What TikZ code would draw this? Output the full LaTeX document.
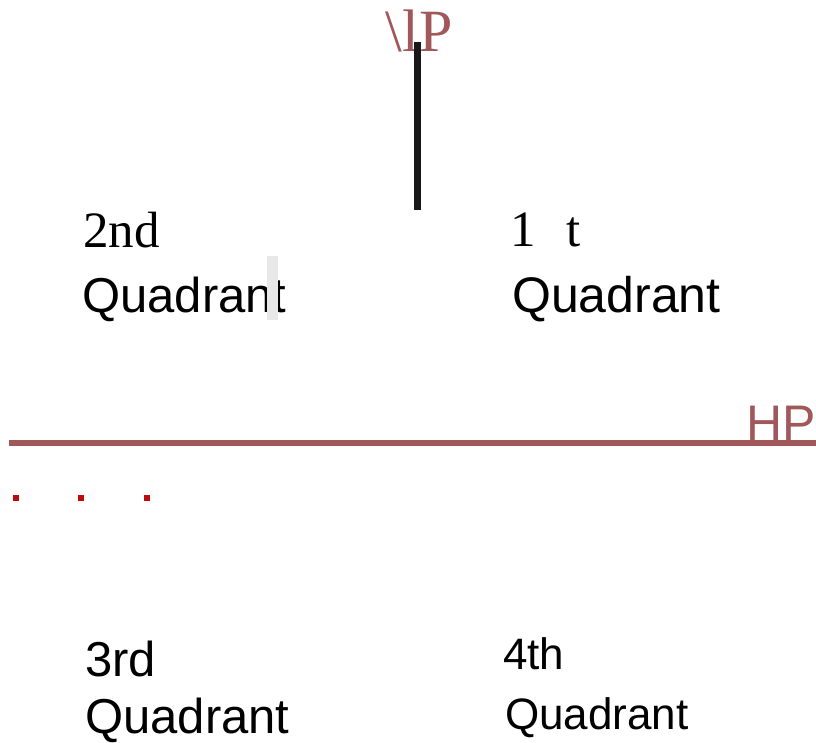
\documentclass[tikz,border=0pt]{standalone}
\usepackage{fontspec}
\setmainfont{Liberation Serif}
\setsansfont{Liberation Sans}
\usetikzlibrary{positioning}
\definecolor{planered}{HTML}{A0585B}
\definecolor{markred}{HTML}{BE0A0A}

\begin{document}
\begin{tikzpicture}[
  x=1pt,y=-1pt,
  lbl/.style={inner sep=0pt,anchor=base west,text=black},
  serifl/.style={lbl,font=\fontsize{51}{60}\selectfont\rmfamily},
  sansl/.style={lbl,font=\fontsize{#1}{#1}\selectfont\sffamily},
  sansl/.default=49,
  plane/.style={planered,line width=6pt},
  redmark/.style={fill=markred,minimum size=6pt,inner sep=0pt}
]
\useasboundingbox (0,0) rectangle (816,743);
% ---------- vertical plane ----------
\node[inner sep=0pt,anchor=base,text=planered,font=\fontsize{60}{60}\selectfont\rmfamily] (vp) at (419,52) {\textbackslash lP};
\coordinate (vptop) at (417,42);
\coordinate (vpbot) at (417,210);
\draw[black!90,line width=7pt] (vptop) -- (vpbot);
% ---------- upper quadrants ----------
\node[serifl] (q2a) at (83,248) {2nd};
\node[sansl=49] (q2b) at (82,312) {Quadrant};
\node[serifl] (q1a) at (510,247) {1\hspace{0.6em}t};
\node[sansl=50] (q1b) at (512,312) {Quadrant};
\fill[black!9] (267,256) rectangle (278,320);
% ---------- horizontal plane ----------
\coordinate (hpl) at (9,443);
\coordinate (hpr) at (816,443);
\draw[plane] (hpl) -- (hpr);
\node[sansl=50,text=planered,anchor=base east] (hp) at (816,440) {HP};
\foreach \mx in {16,81,147}
  \node[redmark] at (\mx,498) {};
% ---------- lower quadrants ----------
\node[sansl=49] (q3a) at (85,676) {3rd};
\node[sansl=49] (q3b) at (85,733) {Quadrant};
\node[sansl=44] (q4a) at (503,669) {4th};
\node[sansl=44] (q4b) at (505,729) {Quadrant};
\end{tikzpicture}
\end{document}
